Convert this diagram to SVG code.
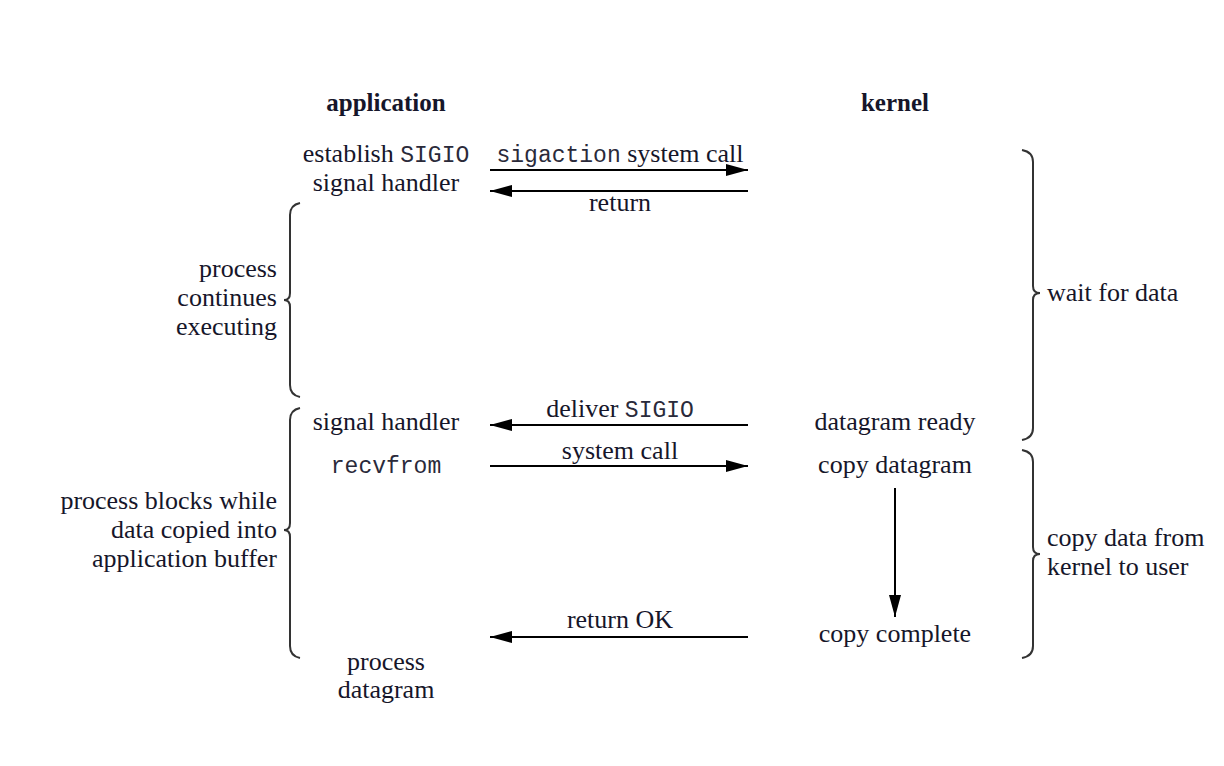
<svg xmlns="http://www.w3.org/2000/svg" width="1224" height="766" viewBox="0 0 1224 766">
<defs>
<marker id="ah" viewBox="0 0 22 12" refX="22" refY="6" markerWidth="22" markerHeight="12" markerUnits="userSpaceOnUse" orient="auto">
<path d="M0,0 L22,6 L0,12 Z" fill="#000"/>
</marker>
</defs>
<style>
text{font-family:"Liberation Serif","Times New Roman",serif;font-size:26px;fill:#16162a}
.b{font-weight:bold;font-size:25px}
.m{font-family:"Liberation Mono","Courier New",monospace;font-size:23px;fill:#2a2a3a}
.c{text-anchor:middle}
.r{text-anchor:end}
.ar{stroke:#000;stroke-width:2;fill:none;marker-end:url(#ah)}
.br{stroke:#333;stroke-width:2;fill:none}
</style>
<rect width="1224" height="766" fill="#fff"/>
<g id="headers">
<text class="b c" x="386" y="111">application</text>
<text class="b c" x="895" y="111">kernel</text>
</g>
<g id="app-establish">
<text class="c" x="386" y="162">establish <tspan class="m">SIGIO</tspan></text>
<text class="c" x="386" y="191">signal handler</text>
</g>
<g id="app-continues">
<text class="r" x="277" y="277">process</text>
<text class="r" x="277" y="306">continues</text>
<text class="r" x="277" y="335">executing</text>
</g>
<g id="app-signal-handler">
<text class="c" x="386" y="430">signal handler</text>
</g>
<g id="app-recvfrom">
<text class="c m" x="386" y="473">recvfrom</text>
</g>
<g id="app-blocks">
<text class="r" x="277" y="509">process blocks while</text>
<text class="r" x="277" y="538">data copied into</text>
<text class="r" x="277" y="567">application buffer</text>
</g>
<g id="app-process">
<text class="c" x="386" y="670">process</text>
<text class="c" x="386" y="698">datagram</text>
</g>
<g id="kernel-ready">
<text class="c" x="895" y="430">datagram ready</text>
</g>
<g id="kernel-copy">
<text class="c" x="895" y="473">copy datagram</text>
</g>
<g id="kernel-complete">
<text class="c" x="895" y="642">copy complete</text>
</g>
<g id="wait">
<text x="1047" y="301">wait for data</text>
</g>
<g id="copydata">
<text x="1047" y="546">copy data from</text>
<text x="1047" y="575">kernel to user</text>
</g>
<g id="braces">
<path class="br" d="M300,203 Q290,205 290,215 L290,293 Q290,300 284,300 Q290,300 290,307 L290,385 Q290,395 300,397"/>
<path class="br" d="M300,408 Q290,410 290,420 L290,523 Q290,530 284,530 Q290,530 290,537 L290,646 Q290,656 300,658"/>
<path class="br" d="M1022,150 Q1033,152 1033,162 L1033,286 Q1033,293 1040,293 Q1033,293 1033,300 L1033,428 Q1033,438 1022,440"/>
<path class="br" d="M1022,450 Q1033,452 1033,462 L1033,547 Q1033,554 1040,554 Q1033,554 1033,561 L1033,646 Q1033,656 1022,658"/>
</g>
<g id="connectors">
<path class="ar" d="M490,170 H748"/>
<text class="c" x="620" y="162"><tspan class="m">sigaction</tspan> system call</text>
<path class="ar" d="M748,191 H490"/>
<text class="c" x="620" y="211">return</text>
<path class="ar" d="M748,425 H490"/>
<text class="c" x="620" y="417">deliver <tspan class="m">SIGIO</tspan></text>
<path class="ar" d="M490,466 H748"/>
<text class="c" x="620" y="459">system call</text>
<path class="ar" d="M895,488 V617"/>
<path class="ar" d="M748,637 H490"/>
<text class="c" x="620" y="628">return OK</text>
</g>
</svg>
